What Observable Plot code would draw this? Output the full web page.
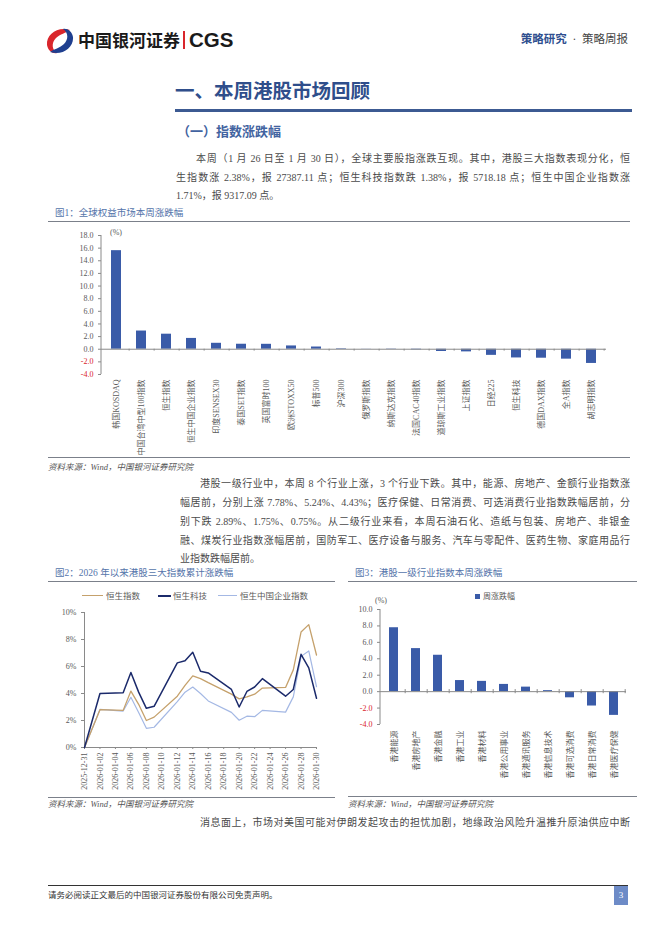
<!DOCTYPE html>
<html><head><meta charset="utf-8">
<script src="https://cdn.jsdelivr.net/npm/d3@7"></script>
<script src="https://cdn.jsdelivr.net/npm/@observablehq/plot@0.6"></script>
<style>
html,body{margin:0;padding:0;background:#fff}
body{width:662px;height:936px;position:relative;overflow:hidden;font-family:"Liberation Serif","Noto Sans CJK SC",serif;color:#333}
.a{position:absolute;white-space:nowrap}
.p{position:absolute;font-size:10px;line-height:18px;height:18px;color:#4a4a4a;text-align:justify;overflow:visible}
.full{text-align-last:justify}
.fig{position:absolute;font-size:9.5px;line-height:14px;color:#5474aa;white-space:nowrap}
.src{position:absolute;font-size:8.5px;line-height:12px;color:#555;font-style:italic;white-space:nowrap}
.hl{position:absolute;height:1px;background:#7b808a}
.chart{position:absolute}
.lg{position:absolute;font-size:8.5px;line-height:12px;color:#595959;white-space:nowrap}
</style></head><body>

<!-- header -->
<svg class="a" style="left:44px;top:26px" width="30" height="29" viewBox="0 0 30 29">
  <path d="M26 4 C14 0 2 8 3 19 C4 25 9 28 13 27 C8 24 7 17 12 12 C16 8 22 7 26 4 Z" fill="#d9262c"/>
  <path d="M6 26 C18 30 30 22 29 11 C28 5 23 2 19 3 C24 6 25 13 20 18 C16 22 10 23 6 26 Z" fill="#1f3f8f"/>
</svg>
<div class="a" style="left:78px;top:29px;font-family:'Noto Sans CJK SC';font-weight:700;font-size:17px;line-height:22px;color:#1a1a1a">中国银河证券</div>
<div class="a" style="left:183px;top:31px;width:1.5px;height:18px;background:#d9262c"></div>
<div class="a" style="left:189px;top:27px;font-family:'Liberation Sans';font-weight:700;font-size:20.5px;line-height:26px;color:#1a1a1a">CGS</div>
<div class="a" style="right:34px;top:31px;font-size:11.5px;line-height:16px;color:#444"><span style="color:#2f4f8f;font-weight:600">策略研究</span>&nbsp; · &nbsp;策略周报</div>

<!-- title -->
<div class="a" style="left:175px;top:78px;font-family:'Noto Sans CJK SC';font-size:19.5px;font-weight:700;color:#2f4e8b;line-height:24px">一、本周港股市场回顾</div>
<div class="a" style="left:175px;top:109px;width:457px;height:2.5px;background:#3c5a92"></div>
<div class="a" style="left:177px;top:122px;font-family:'Noto Sans CJK SC';font-size:13px;font-weight:700;color:#4263a0;line-height:18px">（一）指数涨跌幅</div>

<div class="p full" style="left:196px;width:434px;top:150px">本周（1 月 26 日至 1 月 30 日），全球主要股指涨跌互现。其中，港股三大指数表现分化，恒</div>
<div class="p full" style="left:176px;width:454px;top:168.5px">生指数涨 2.38%，报 27387.11 点；恒生科技指数跌 1.38%，报 5718.18 点；恒生中国企业指数涨</div>
<div class="p" style="left:176px;width:454px;top:187px">1.71%，报 9317.09 点。</div>

<!-- figure 1 -->
<div class="fig" style="left:55px;top:206px">图1：全球权益市场本周涨跌幅</div>
<div class="hl" style="left:48px;top:221px;width:582px"></div>
<div class="lg" style="left:110px;top:227px;font-size:8px">(%)</div>
<div id="c1" class="chart" style="left:48px;top:225px"></div>
<div class="hl" style="left:48px;top:457px;width:582px"></div>
<div class="src" style="left:48px;top:461px">资料来源：Wind，中国银河证券研究院</div>

<div class="p full" style="left:200px;width:430px;top:475px">港股一级行业中，本周 8 个行业上涨，3 个行业下跌。其中，能源、房地产、金额行业指数涨</div>
<div class="p full" style="left:180px;width:450px;top:494px">幅居前，分别上涨 7.78%、5.24%、4.43%；医疗保健、日常消费、可选消费行业指数跌幅居前，分</div>
<div class="p full" style="left:180px;width:450px;top:513px">别下跌 2.89%、1.75%、0.75%。从二级行业来看，本周石油石化、造纸与包装、房地产、非银金</div>
<div class="p full" style="left:180px;width:450px;top:532px">融、煤炭行业指数涨幅居前，国防军工、医疗设备与服务、汽车与零配件、医药生物、家庭用品行</div>
<div class="p" style="left:180px;width:450px;top:550px">业指数跌幅居前。</div>

<!-- figure 2 -->
<div class="fig" style="left:55px;top:566px">图2：2026 年以来港股三大指数累计涨跌幅</div>
<div class="hl" style="left:48px;top:581px;width:287px"></div>
<div class="a" style="left:82px;top:595px;width:21px;height:1.3px;background:#c5a16c"></div>
<div class="lg" style="left:106px;top:590px">恒生指数</div>
<div class="a" style="left:158px;top:595px;width:13px;height:1.5px;background:#1b2a6b"></div>
<div class="lg" style="left:173px;top:590px">恒生科技</div>
<div class="a" style="left:218px;top:595px;width:19px;height:1.2px;background:#a4b8e4"></div>
<div class="lg" style="left:240px;top:590px">恒生中国企业指数</div>
<div id="c2" class="chart" style="left:48px;top:605px"></div>
<div class="hl" style="left:48px;top:797px;width:287px"></div>
<div class="src" style="left:48px;top:798px">资料来源：Wind，中国银河证券研究院</div>

<!-- figure 3 -->
<div class="fig" style="left:355px;top:566px">图3：港股一级行业指数本周涨跌幅</div>
<div class="hl" style="left:348px;top:581px;width:289px"></div>
<div class="a" style="left:475px;top:594px;width:5px;height:5px;background:#3a5ba8"></div>
<div class="lg" style="left:483px;top:591px;font-size:8px">周涨跌幅</div>
<div class="lg" style="left:375px;top:595px;font-size:8px">(%)</div>
<div id="c3" class="chart" style="left:348px;top:600px"></div>
<div class="hl" style="left:348px;top:796px;width:289px"></div>
<div class="src" style="left:348px;top:798px">资料来源：Wind，中国银河证券研究院</div>

<div class="p full" style="left:200px;width:430px;top:814px">消息面上，市场对美国可能对伊朗发起攻击的担忧加剧，地缘政治风险升温推升原油供应中断</div>

<!-- footer -->
<div class="a" style="left:48px;top:885px;width:580px;height:1px;background:#333"></div>
<div class="a" style="left:48px;top:889px;font-size:8.5px;line-height:12px;color:#333">请务必阅读正文最后的中国银河证券股份有限公司免责声明。</div>
<div class="a" style="left:614px;top:886px;width:14px;height:19px;background:#6d8bc7;color:#fff;font-size:9px;line-height:19px;text-align:center">3</div>

<script>
// ---------- data ----------
const globalNames = ["韩国KOSDAQ","中国台湾中型100指数","恒生指数","恒生中国企业指数","印度SENSEX30","泰国SET指数","英国富时100","欧洲STOXX50","标普500","沪深300","俄罗斯指数","纳斯达克指数","法国CAC40指数","道琼斯工业指数","上证指数","日经225","恒生科技","德国DAX指数","全A指数","胡志明指数"];
const globalChanges = [15.6, 2.88, 2.38, 1.71, 0.94, 0.79, 0.78, 0.52, 0.35, 0.08, 0.02, -0.05, -0.1, -0.36, -0.42, -0.97, -1.38, -1.42, -1.57, -2.25];
const globalTicks = [-4, -2, 0, 2, 4, 6, 8, 10, 12, 14, 16, 18];

const tradeDates = ["2025-12-31","2026-01-02","2026-01-05","2026-01-06","2026-01-07","2026-01-08","2026-01-09","2026-01-12","2026-01-13","2026-01-14","2026-01-15","2026-01-16","2026-01-19","2026-01-20","2026-01-21","2026-01-22","2026-01-23","2026-01-26","2026-01-27","2026-01-28","2026-01-29","2026-01-30"];
const hsiCum    = [0, 2.8, 2.75, 4.18, 3.2, 2.0, 2.25, 3.8, 4.6, 5.3, 5.1, 4.8, 3.95, 3.6, 3.75, 3.95, 4.4, 4.45, 5.75, 8.55, 9.1, 6.85];
const hstechCum = [0, 4.0, 4.05, 5.55, 4.1, 2.9, 3.05, 6.27, 6.42, 7.06, 5.65, 5.52, 4.3, 3.0, 4.15, 4.48, 5.1, 3.8, 4.3, 6.9, 5.9, 3.65];
const hsceiCum  = [0, 2.82, 2.7, 3.72, 2.6, 1.42, 1.5, 3.4, 4.1, 4.48, 4.0, 3.45, 2.6, 2.02, 2.32, 2.28, 2.75, 2.62, 3.75, 6.75, 7.15, 4.5];
const dateTicks = ["2025-12-31","2026-01-02","2026-01-04","2026-01-06","2026-01-08","2026-01-10","2026-01-12","2026-01-14","2026-01-16","2026-01-18","2026-01-20","2026-01-22","2026-01-24","2026-01-26","2026-01-28","2026-01-30"];
const pctTicks = [0, 2, 4, 6, 8, 10];

const sectorNames = ["香港能源","香港房地产","香港金融","香港工业","香港材料","香港公用事业","香港通讯服务","香港信息技术","香港可选消费","香港日常消费","香港医疗保健"];
const sectorChanges = [7.78, 5.24, 4.43, 1.35, 1.25, 0.88, 0.55, 0.12, -0.75, -1.75, -2.89];
const sectorTicks = [-4, -2, 0, 2, 4, 6, 8, 10];

// ---------- helpers ----------
const FONT = "'Liberation Serif','Noto Sans CJK SC',serif";
const BAR = "#3a5ba8", AX = "#8a8a8a", TXT = "#595959", NEG = "#d9262c";
const parse = d3.utcParse("%Y-%m-%d");

function leftLine(color) {
  return (index, scales, values, dims) => {
    const l = document.createElementNS("http://www.w3.org/2000/svg", "line");
    l.setAttribute("x1", dims.marginLeft); l.setAttribute("x2", dims.marginLeft);
    l.setAttribute("y1", dims.marginTop); l.setAttribute("y2", dims.height - dims.marginBottom);
    l.setAttribute("stroke", color);
    return l;
  };
}

function barChart({names, values, ticks, width, height, mL, mR, mT, mB, tickUp, tickDown, labelPad}) {
  const rows = names.map((n, i) => ({name: n, value: values[i]}));
  const step = (width - mL - mR) / names.length;
  const fmt = d => d.toFixed(1);
  return Plot.plot({
    width, height, marginLeft: mL, marginRight: mR, marginTop: mT, marginBottom: mB,
    style: {fontFamily: FONT, fontSize: "8px", color: TXT, background: "transparent", overflow: "visible"},
    x: {domain: names, paddingInner: 0.6, paddingOuter: 0.3, label: null},
    y: {domain: [ticks[0], ticks[ticks.length - 1]], label: null},
    marks: [
      Plot.barY(rows, {x: "name", y: "value", fill: BAR}),
      Plot.ruleY([0], {stroke: AX}),
      Plot.ruleX(names, {x: d => d, y1: tickUp, y2: tickDown, dx: step / 2, stroke: AX}),
      leftLine(AX),
      Plot.axisY(ticks.filter(d => d >= 0), {tickFormat: fmt, tickSize: 3, tickPadding: 5, stroke: AX, fill: TXT, label: null}),
      Plot.axisY(ticks.filter(d => d < 0), {tickFormat: fmt, tickSize: 3, tickPadding: 5, stroke: AX, fill: NEG, label: null}),
      Plot.axisX({tickSize: 0, tickRotate: -90, tickPadding: labelPad, fill: TXT, label: null, fontFamily: FONT})
    ]
  });
}

// ---------- chart 1 ----------
document.getElementById("c1").append(barChart({
  names: globalNames, values: globalChanges, ticks: globalTicks,
  width: 582, height: 230, mL: 53, mR: 24, mT: 10, mB: 81, tickUp: 0, tickDown: -0.3, labelPad: 5
}));

// ---------- chart 2 ----------
const d0 = parse(tradeDates[0]), d1 = parse(tradeDates[tradeDates.length - 1]);
const mk = arr => tradeDates.map((d, i) => ({date: parse(d), value: arr[i]}));
document.getElementById("c2").append(Plot.plot({
  width: 287, height: 192, marginLeft: 36, marginRight: 19, marginTop: 7, marginBottom: 50,
  style: {fontFamily: FONT, fontSize: "8px", color: TXT, background: "transparent", overflow: "visible"},
  x: {type: "utc", domain: [d0, d1], label: null},
  y: {domain: [0, 10], label: null},
  marks: [
    Plot.ruleY([0], {stroke: AX}),
    Plot.ruleX([d0], {stroke: AX}),
    Plot.axisX(dateTicks.map(parse), {tickFormat: d3.utcFormat("%Y-%m-%d"), tickRotate: -90, tickSize: 2, tickPadding: 3, stroke: AX, fill: TXT, label: null}),
    Plot.axisY(pctTicks, {tickFormat: d => d + "%", tickSize: 3, tickPadding: 5, stroke: AX, fill: TXT, label: null}),
    Plot.lineY(mk(hsceiCum), {x: "date", y: "value", stroke: "#a4b8e4", strokeWidth: 1.2}),
    Plot.lineY(mk(hsiCum), {x: "date", y: "value", stroke: "#c5a16c", strokeWidth: 1.3}),
    Plot.lineY(mk(hstechCum), {x: "date", y: "value", stroke: "#1b2a6b", strokeWidth: 1.5})
  ]
}));

// ---------- chart 3 ----------
document.getElementById("c3").append(barChart({
  names: sectorNames, values: sectorChanges, ticks: sectorTicks,
  width: 287, height: 190, mL: 32, mR: 9, mT: 9, mB: 66, tickUp: 0.25, tickDown: -0.25, labelPad: 6
}));
</script>
</body></html>
